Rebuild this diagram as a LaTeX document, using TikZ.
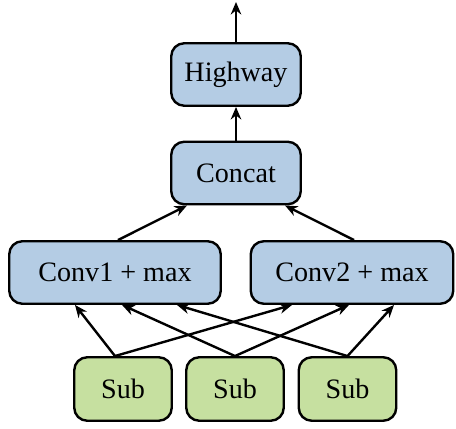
\documentclass[tikz,border=0pt]{standalone}
\usepackage{fontspec}
\setmainfont{Liberation Serif}
\usetikzlibrary{arrows.meta}
\definecolor{boxblue}{RGB}{180,204,228}
\definecolor{boxgreen}{RGB}{198,224,160}

\begin{document}
\begin{tikzpicture}[->,>={Stealth[length=0.25cm,width=0.21cm]},line width=0.048cm]
    \tikzstyle{block}=[draw=black,rounded corners=0.26cm,minimum height=1.25cm,inner sep=0pt,font=\fontsize{16}{18}\selectfont]
    \tikzstyle{top block}=[block,fill=boxblue,minimum width=2.59cm]
    \tikzstyle{conv block}=[block,fill=boxblue]
    \tikzstyle{sub block}=[block,fill=boxgreen,minimum width=1.95cm,minimum height=1.27cm]

    \useasboundingbox (0,0) rectangle (9.12,8.56);

    % Draw the upper blocks
    \node[top block] (HW) at (4.72,7.07) {Highway};
    \node[top block] (CC) at (4.72,5.10) {Concat};

    % Draw the convolution blocks
    \node[conv block,minimum width=4.23cm] (C-1) at (2.30,3.11) {Conv1 + max};
    \node[conv block,minimum width=4.05cm] (C-2) at (7.04,3.11) {Conv2 + max};

    % Draw the sub blocks
    \foreach \name / \x in {1/2.46,2/4.70,3/6.95}
        \node[sub block] (S-\name) at (\x,0.78) {Sub};

    % Connect every sub block with both convolution blocks
    \foreach \source / \sx / \ca / \cb in {1/-0.16/-0.8/-1.2,2/0/0.14/-0.06,3/0/1.24/0.84}
    {
        \draw ([xshift=\sx cm]S-\source.north) -- ([xshift=\ca cm]C-1.south);
        \draw ([xshift=\sx cm]S-\source.north) -- ([xshift=\cb cm]C-2.south);
    }

    % Convolutions into the concat block
    \draw ([xshift=0.06cm]C-1.north) -- ([xshift=-0.98cm]CC.south);
    \draw ([xshift=0.04cm]C-2.north) -- ([xshift=0.98cm]CC.south);

    % Up to the output
    \coordinate (out) at (4.72,8.52);
    \draw (CC) -- (HW);
    \draw (HW) -- (out);
\end{tikzpicture}
\end{document}
